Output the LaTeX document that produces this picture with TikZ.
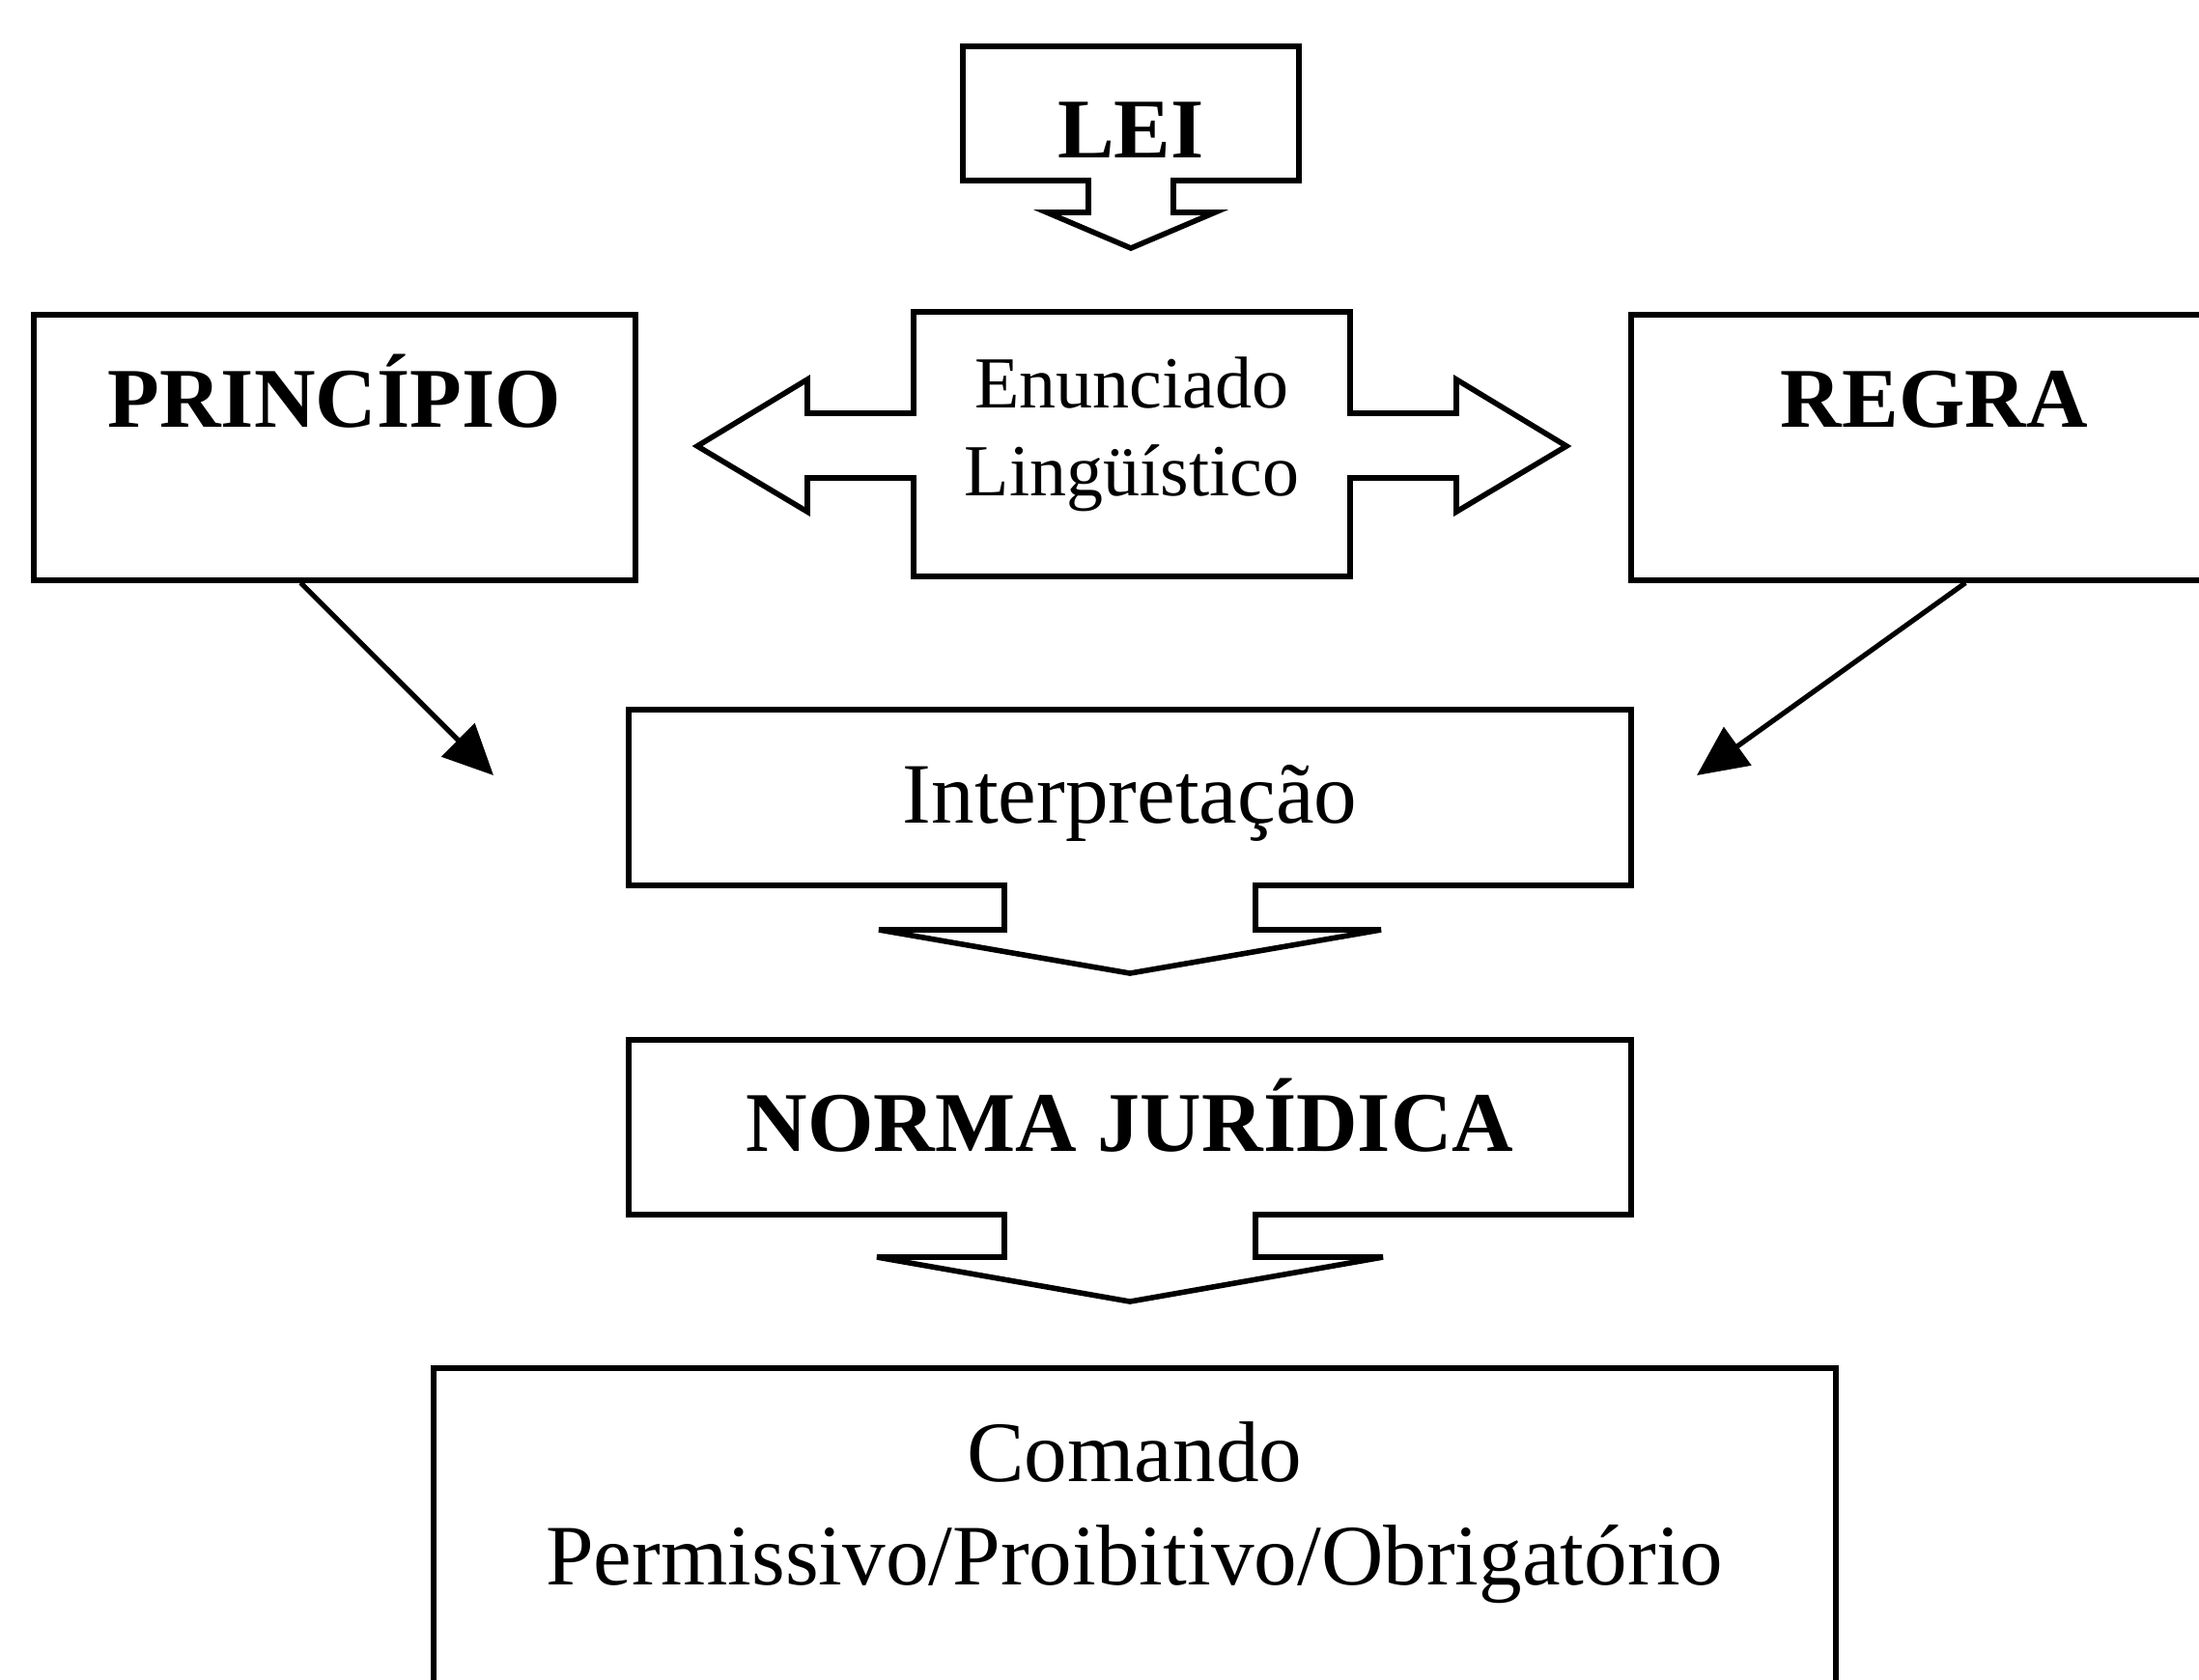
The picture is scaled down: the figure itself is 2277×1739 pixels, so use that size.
\documentclass[tikz,border=0pt]{standalone}
\usepackage{fontspec}
\setmainfont{Liberation Serif}
\usetikzlibrary{arrows.meta}

\tikzset{every picture/.style={line width=1.4pt}}
\tikzset{
  boldlbl/.style={font=\fontsize{22}{26}\selectfont\bfseries, inner sep=0pt},
  plainlbl/.style={font=\fontsize{22.3}{26.75}\selectfont, inner sep=0pt},
  smalllbl/.style={font=\fontsize{19}{22.75}\selectfont, inner sep=0pt},
  sidebox/.style={draw, rectangle, inner sep=0pt, align=center, text height=29.25pt, text depth=39.5pt},
  pointer/.style={line width=1.3pt, -{Triangle[length=13pt,width=12pt]}}
}

\begin{document}
\begin{tikzpicture}[x=0.25pt,y=0.25pt,yscale=-1,xscale=1]
\useasboundingbox (0,0) rectangle (2277,1739);
\clip (0,0) rectangle (2277,1739);

%Shape: Callout [LEI]
\draw  (997,48) -- (1345,48) -- (1345,187) -- (1215,187) -- (1215,220) -- (1258,220) -- (1171,257) -- (1084,220) -- (1127,220) -- (1127,187) -- (997,187) -- cycle ;
%Shape: Double Arrow Callout [Enunciado]
\draw  (946,323) -- (1398,323) -- (1398,428) -- (1508,428) -- (1508,393) -- (1622,462) -- (1508,530) -- (1508,495) -- (1398,495) -- (1398,597) -- (946,597) -- (946,495) -- (836,495) -- (836,530) -- (722,462) -- (836,393) -- (836,428) -- (946,428) -- cycle ;
%Shape: Callout [Interpretacao]
\draw  (651,735) -- (1689,735) -- (1689,917) -- (1300,917) -- (1300,963) -- (1430,963) -- (1170,1008) -- (910,963) -- (1040,963) -- (1040,917) -- (651,917) -- cycle ;
%Shape: Callout [Norma]
\draw  (651,1077) -- (1689,1077) -- (1689,1258) -- (1300,1258) -- (1300,1302) -- (1432,1302) -- (1170,1348) -- (908,1302) -- (1040,1302) -- (1040,1258) -- (651,1258) -- cycle ;

% Text Node
\node (lei) [boldlbl, anchor=base] at (1171,163) {LEI};
% Text Node (base = last line)
\node (enun) [smalllbl, anchor=base, align=center] at (1172,513) {Enunciado\\Lingüístico};
% Text Node
\node (interp) [plainlbl, anchor=base] at (1170,852) {Interpretação};
% Text Node
\node (norma) [boldlbl, anchor=base] at (1170,1192) {NORMA JURÍDICA};

%Shape: Rectangle
\node (princ) [sidebox, boldlbl, text width=155.75pt, anchor=north west] at (32,323) {PRINCÍPIO};
%Shape: Rectangle
\node (regra) [sidebox, boldlbl, text width=157pt, anchor=north west] at (1686,323) {REGRA};
%Shape: Rectangle
\node (comando) [draw, plainlbl, align=center, text width=363pt, text height=29.5pt, text depth=96.5pt, anchor=north west] at (446,1414) {Comando\\Permissivo/Proibitivo/Obrigatório};

%Straight Lines
\coordinate (pin) at (511,803);
\coordinate (rin) at (1757,803);
\draw [pointer] (princ.-104) -- (pin);
\draw [pointer] (regra.-77) -- (rin);

\end{tikzpicture}
\end{document}
